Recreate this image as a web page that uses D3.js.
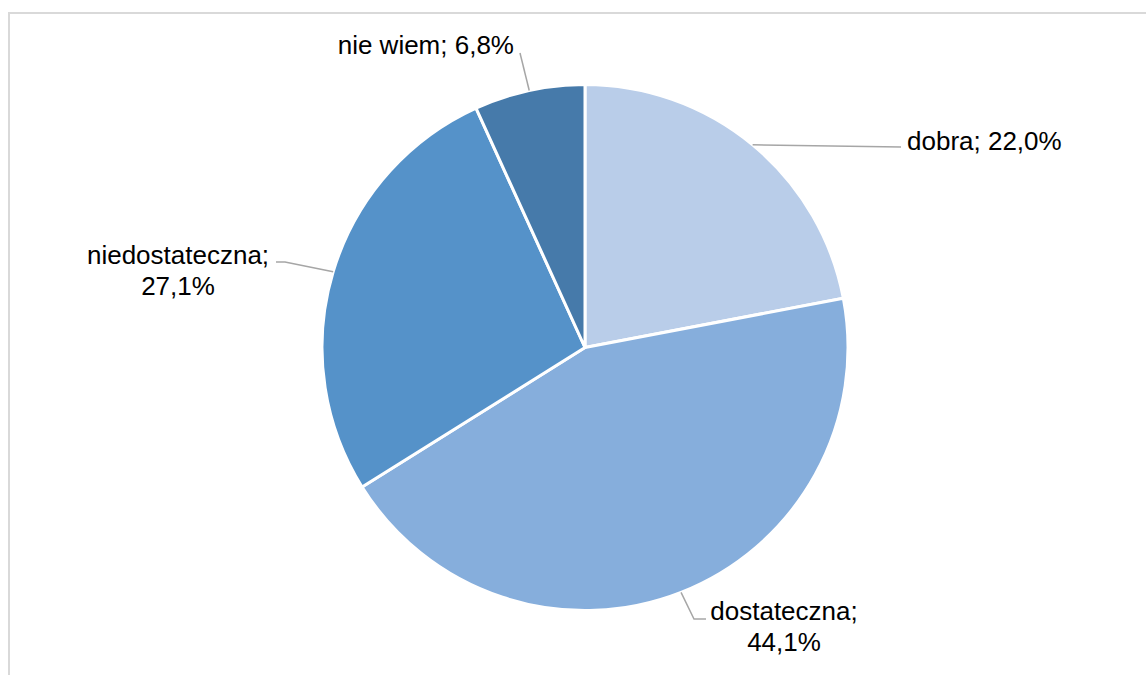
<!DOCTYPE html>
<html>
<head>
<meta charset="utf-8">
<script src="https://cdn.jsdelivr.net/npm/d3@7"></script>
<style>
  body { margin: 0; background: #fff; }
  svg { display: block; }
  text { font-family: "Liberation Sans", Arial, sans-serif; fill: #000; }
</style>
</head>
<body>
<div id="chart"></div>
<script>
// categories, clockwise from 12 o'clock
const categories = ['dobra', 'dostateczna', 'niedostateczna', 'nie wiem'];
const values = [22.0, 44.1, 27.1, 6.8];
const labelLines = [
  ['dobra; 22,0%'],
  ['dostateczna;', '44,1%'],
  ['niedostateczna;', '27,1%'],
  ['nie wiem; 6,8%']
];
const colors = ['#b9cde9', '#86aedc', '#5592c9', '#467aaa'];

const width = 1146, height = 675;
const cx = 585, cy = 347.5, radius = 263;

// manual label layout (relative to pie centre), like the hand-placed labels in the original
// elbow = where leader meets the text, tx/ty = text anchor, anchor = text-anchor
const labelLayout = [
  { elbow: [[316, -200.5]], tx: 322, ty: -198, anchor: 'start' },
  { elbow: [[109, 271.5], [121, 271.5]], tx: 199, ty: 272.5, anchor: 'middle' },
  { elbow: [[-300, -85.5], [-309, -85.5]], tx: -407, ty: -84, anchor: 'middle' },
  { elbow: [[-65, -294.5]], tx: -71, ty: -294, anchor: 'end' }
];

const svg = d3.select('#chart').append('svg')
  .attr('width', width)
  .attr('height', height);

// chart area border
svg.append('rect')
  .attr('x', 9)
  .attr('y', 13)
  .attr('width', width + 10)
  .attr('height', height + 10)
  .style('fill', 'none')
  .style('stroke', '#d9d9d9')
  .style('stroke-width', 2);

let g = svg.append('g')
  .attr('transform', 'translate(' + cx + ',' + cy + ')');

let pie = d3.pie()
  .sort(null)
  .value(function(d) { return d; });

let arcs = pie(values);

let arc = d3.arc()
  .innerRadius(0)
  .outerRadius(radius);

g.selectAll('path.slice')
  .data(arcs)
.enter().append('path')
  .attr('class', 'slice')
  .attr('d', arc)
  .style('fill', function(d, i) { return colors[i]; })
  .style('stroke', '#fff')
  .style('stroke-width', 3)
  .style('stroke-linejoin', 'round');

// leader lines start on the rim at the slice's mid angle
let edge = d3.arc().innerRadius(radius).outerRadius(radius);

g.selectAll('path.leader')
  .data(arcs)
.enter().append('path')
  .attr('class', 'leader')
  .attr('d', function(d, i) {
    let p = edge.centroid(d);
    let pts = [p].concat(labelLayout[i].elbow);
    return d3.line()(pts);
  })
  .style('fill', 'none')
  .style('stroke', '#a6a6a6')
  .style('stroke-width', 1.5);

let fontSize = 26;
let lineHeight = 31;

g.selectAll('text.label')
  .data(arcs)
.enter().append('text')
  .attr('class', 'label')
  .attr('text-anchor', function(d, i) { return labelLayout[i].anchor; })
  .style('font-size', fontSize + 'px')
  .each(function(d, i) {
    let lay = labelLayout[i];
    let t = d3.select(this);
    labelLines[i].forEach(function(s, k) {
      t.append('tspan')
        .attr('x', lay.tx)
        .attr('y', lay.ty + k * lineHeight)
        .text(s);
    });
  });
</script>
</body>
</html>
